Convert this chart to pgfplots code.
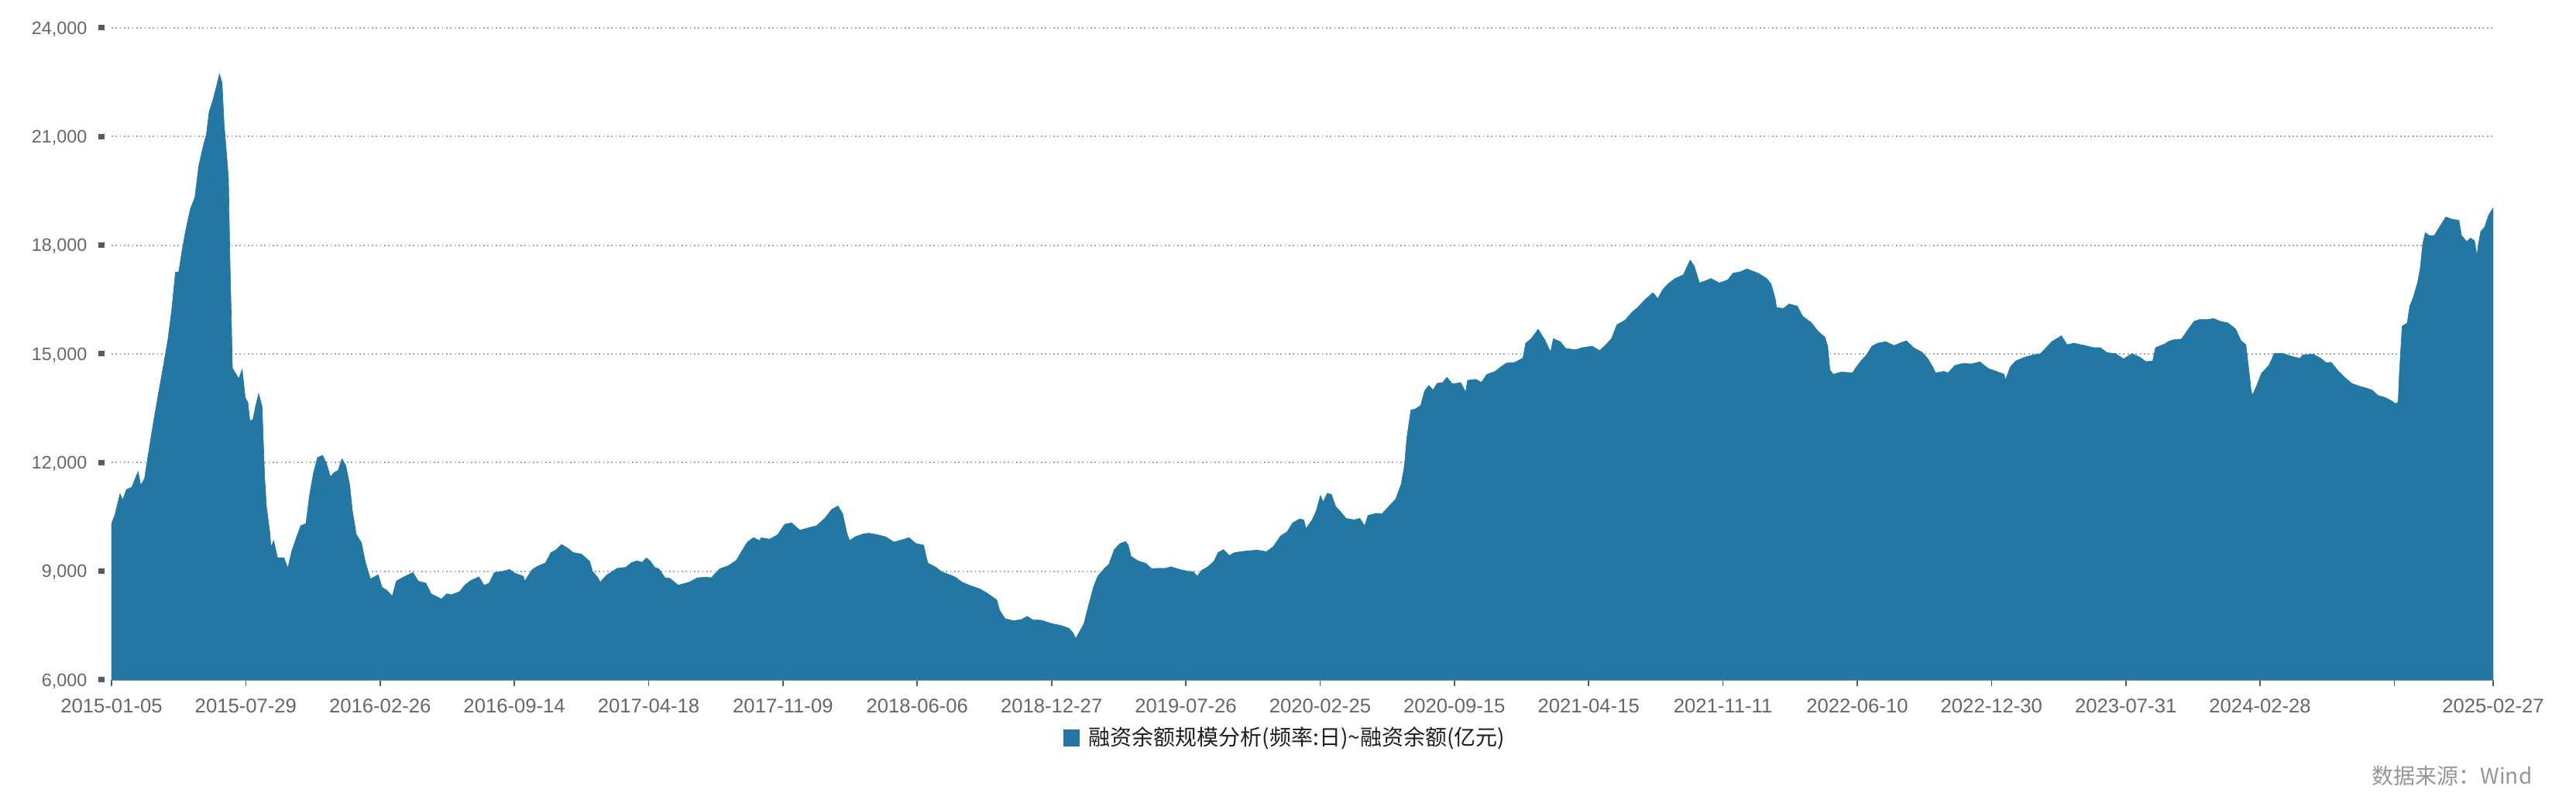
\documentclass[border=0pt]{standalone}
\usepackage{pgfplots}
\usepackage{pgfplotstable}
\pgfplotsset{compat=1.18}
\usepackage{fontspec}
\setmainfont{Liberation Sans}
\newfontfamily\cjk{Noto Sans CJK SC}
\definecolor{areablue}{RGB}{35,119,163}
\definecolor{labelgray}{RGB}{102,102,102}
\definecolor{gridgray}{RGB}{165,165,165}
\definecolor{tickdark}{RGB}{85,90,100}
\definecolor{axisgray}{RGB}{165,168,172}
\definecolor{srcgray}{RGB}{150,150,150}
\definecolor{legtext}{RGB}{30,30,30}

% trading-day index (0 = 2015-01-05) and margin balance (100 million yuan)
\pgfplotstableread{
day value
0 10316
3.5 10551
8.9 11139
11.6 10963
15.6 11257
21 11316
27.7 11751
30.4 11374
34.4 11551
38.5 12256
43.9 13138
49.3 13962
53.3 14550
58.7 15373
62.7 16196
66.7 17254
70 17254
73.5 17842
77.5 18430
82.4 19018
86.9 19312
91 20194
95 20665
99 21076
101.7 21664
105.8 22017
109.8 22429
112.5 22723
115.2 22488
117.3 21370
120 20488
121.9 19841
123.3 17783
124.6 16314
126 14608
130 14432
132.7 14314
136.2 14573
139.4 13785
142.1 13667
144.3 13138
147.5 13197
150.2 13550
153.4 13903
156.9 13550
158.3 12550
159.6 11609
161.5 10786
165 10081
166.3 9669
169 9845
173 9375
179.8 9375
183.8 9081
187.9 9552
193.2 9963
197.3 10257
202.7 10316
206.7 11139
210.7 11727
214.8 12139
220.2 12198
224.2 11962
228.2 11609
232.3 11727
236.3 11786
240.3 12103
244.4 11904
248.4 11374
251.1 10669
255.1 10022
260.5 9786
264.6 9257
269.9 8787
278 8904
282.1 8552
286.1 8493
292.8 8317
296.9 8728
304.9 8846
314.3 8963
319.7 8728
327.8 8670
333.2 8375
344 8234
349.3 8375
354.7 8352
362.8 8434
368.2 8611
373.6 8728
383 8846
388.4 8611
393.7 8670
399.1 8963
408.5 9000
414.9 9049
420.7 8943
429.3 8861
430.8 8721
437.9 9025
443.7 9131
452.4 9230
458.1 9516
463.9 9598
469.1 9738
475.5 9640
481.2 9516
489.8 9475
498.5 9271
501.4 9000
507.1 8820
509.5 8697
515.8 8885
527.3 9082
536 9107
541.8 9230
547.5 9287
553.3 9246
557.6 9369
561.9 9271
566.3 9107
570.6 9066
577 8820
582.1 8803
590.8 8615
602.3 8697
610.9 8820
619.6 8836
625.4 8820
634 9066
642.7 9148
651.3 9295
657.1 9557
662.9 9803
669.2 9926
675.9 9844
677.3 9926
686 9885
694.6 10008
701.8 10295
709 10336
717.7 10131
726.3 10197
735 10254
743.6 10459
750.8 10705
757.4 10803
762.3 10582
766.7 10049
769.5 9844
775.3 9951
784 10033
789.7 10049
798.4 10008
807.1 9951
815.7 9803
824.4 9869
831.5 9926
838.8 9762
846.6 9721
850.9 9230
859.5 9107
865.3 8984
873.9 8902
879.7 8836
886.9 8697
894.1 8615
905.7 8508
914.3 8369
922.9 8205
925.9 7918
931.6 7689
940.3 7631
949 7672
954.7 7754
960.5 7656
969.1 7648
980.7 7549
989.3 7508
998 7426
1002.3 7303
1005.2 7139
1009.5 7344
1013.8 7549
1018.1 8000
1023.9 8574
1028.2 8861
1035.4 9082
1039.8 9189
1045.5 9598
1051.3 9762
1057.1 9820
1060 9721
1062.9 9410
1070.1 9287
1078.7 9213
1084.4 9066
1090.2 9082
1098.9 9082
1104.6 9123
1113.3 9049
1122 9000
1127.7 8984
1132 8861
1136.4 9025
1142.2 9107
1149.3 9271
1153.7 9516
1159.4 9598
1165.2 9434
1171 9516
1182.5 9557
1194.1 9582
1204.2 9541
1211.3 9680
1218.5 9967
1225.7 10090
1231.5 10336
1238.7 10443
1243.1 10418
1245.3 10172
1251.7 10418
1256 10664
1260.4 11090
1263.2 10910
1267.6 11156
1271.9 11115
1276.2 10787
1282 10623
1286.9 10459
1295.6 10418
1301.3 10459
1306.5 10254
1310 10541
1318.6 10599
1324.4 10582
1330.2 10746
1338.8 10992
1344.6 11402
1348.1 11935
1350.4 12672
1354.7 13451
1359 13476
1364.8 13574
1369.1 13984
1373.4 14131
1377.8 14000
1382.1 14189
1387.8 14205
1392.2 14353
1397.9 14172
1406.6 14205
1411.8 13943
1413.8 14271
1422.4 14296
1428.2 14213
1434 14435
1442.6 14517
1448.4 14640
1454.2 14746
1462.8 14763
1471.5 14886
1474.4 15295
1480.1 15418
1487.3 15681
1494.5 15377
1500.3 15050
1503.2 15418
1510.4 15336
1516.2 15148
1526.3 15115
1533.5 15172
1543.6 15213
1551.6 15090
1558 15254
1563.7 15418
1569.5 15803
1578.2 15935
1585.4 16156
1591.1 16279
1598.3 16484
1607 16689
1612.2 16525
1617.1 16771
1622.9 16935
1630.1 17082
1638.7 17181
1645.9 17591
1650.3 17410
1655.4 16959
1661.8 17017
1667.5 17082
1676.2 16959
1684.9 17041
1690.6 17230
1697.8 17263
1705 17344
1717.2 17222
1725.8 17074
1730.1 16935
1734.5 16525
1735.9 16279
1743.1 16254
1748.9 16377
1757.5 16320
1763.3 16033
1771.9 15869
1779.2 15623
1786.4 15459
1789.2 15213
1791.5 14558
1795 14435
1803.6 14500
1815.2 14476
1818.1 14599
1823.8 14804
1829.6 14967
1835.4 15213
1841.2 15295
1849.8 15336
1858.5 15230
1865.7 15312
1871.4 15361
1878.6 15172
1887.3 15050
1893.1 14886
1898.8 14640
1901.7 14476
1910.4 14517
1914.7 14476
1921.9 14681
1930.5 14738
1939.2 14722
1947.9 14779
1956.5 14599
1965.1 14517
1973.2 14435
1974.4 14271
1979.6 14640
1985.3 14804
1994 14902
2002.6 14967
2011.3 15008
2017 15172
2022.8 15336
2032.9 15500
2038.7 15254
2045.9 15295
2057.4 15230
2066.1 15172
2073.3 15172
2080.5 15033
2089.1 15008
2097.8 14861
2106.4 15008
2115.1 14902
2120.9 14787
2128.1 14804
2131 15172
2141.1 15279
2144.5 15344
2149.9 15390
2158 15409
2160.6 15502
2166 15715
2171.4 15901
2176.8 15947
2184.9 15947
2191.6 15975
2198.3 15901
2206.4 15855
2214.5 15687
2219.9 15372
2225.2 15251
2227.9 14647
2230.6 13997
2232 13858
2236 14090
2241.4 14461
2249.5 14693
2254.9 15019
2262.9 15019
2268.3 14972
2273.7 14926
2281.8 14879
2284.5 14972
2295.2 14991
2303.3 14879
2308.7 14759
2314.1 14768
2322.1 14508
2327.5 14368
2335.6 14183
2343.7 14108
2349 14071
2357.1 13997
2362.5 13858
2370.6 13793
2377.3 13700
2381.3 13625
2384 13672
2385.4 14554
2388.1 15762
2393.4 15855
2396.1 16319
2400.2 16597
2404.2 16969
2406.9 17341
2409.6 18037
2412.3 18344
2416.3 18269
2421.7 18269
2427.1 18502
2433.8 18780
2440.5 18715
2447.3 18687
2450 18269
2455.4 18102
2459.4 18195
2463.4 18130
2466.1 17712
2467.5 18009
2470.1 18381
2474.2 18502
2478.2 18827
2483 19031
}\margindata

\begin{document}
\begin{tikzpicture}
\begin{axis}[
  scale only axis,
  width=922.5pt, height=252.6pt,
  xmin=0, xmax=2483, ymin=6000, ymax=24000,
  scaled y ticks=false, scaled x ticks=false,
  axis x line*=bottom, axis y line*=left,
  x axis line style={-, draw=axisgray, line width=0.65pt},
  y axis line style={-, draw=none},
  tick align=outside,
  major tick length=2.4pt,
  xtick={0,140,280,420,560,700,840,980,1120,1260,1400,1540,1680,1820,1960,2100,2240,2380,2483},
  xticklabels={2015-01-05,2015-07-29,2016-02-26,2016-09-14,2017-04-18,2017-11-09,2018-06-06,2018-12-27,2019-07-26,2020-02-25,2020-09-15,2021-04-15,2021-11-11,2022-06-10,2022-12-30,2023-07-31,2024-02-28,{},2025-02-27},
  xtick style={draw=tickdark, line width=0.5pt},
  ytick={6000,9000,12000,15000,18000,21000,24000},
  ytick style={draw=none},
  ymajorgrids,
  major grid style={draw=gridgray, line width=0.55pt, dash pattern=on 0.55pt off 1.05pt},
  x tick label style={font=\fontsize{7.7pt}{9pt}\selectfont, text=labelgray, inner sep=0pt, anchor=north, yshift=-4.8pt},
  y tick label style={font=\fontsize{7pt}{8.5pt}\selectfont, text=labelgray, inner sep=0pt, anchor=east, text depth=0pt},
  yticklabel={\pgfmathprintnumber[fixed, precision=0, 1000 sep={,}, assume math mode=true]{\tick}\hspace{4.5pt}\textcolor{tickdark}{\rule[1.45pt]{2.4pt}{2.1pt}}},
  legend style={at={(0.4924,0)}, anchor=center, yshift=-22.5pt, draw=none, fill=none, inner sep=0pt, outer sep=0pt,
    font=\cjk\fontsize{8.4pt}{10pt}\selectfont, text=legtext, column sep=0pt,
    nodes={inner sep=0pt}},
  legend image code/.code={\fill[areablue] (0pt,-3.15pt) rectangle (6pt,3.15pt);},
  legend entries={\hspace{3.6pt}融资余额规模分析(频率:日)\textasciitilde 融资余额(亿元)},
]
\addplot[fill=areablue, draw=areablue, line width=0.2pt] table[x=day, y=value] {\margindata} \closedcycle;
\coordinate (ll) at (rel axis cs:0,0);
\coordinate (ur) at (rel axis cs:1,1);
\coordinate (lr) at (rel axis cs:1,0);
\end{axis}
\node[anchor=east, inner sep=0pt, font=\cjk\fontsize{8.4pt}{10pt}\selectfont, text=srcgray] at ([xshift=15.3pt, yshift=-37.2pt]lr) {数据来源：Wind};
\path ([shift={(-43.2pt,-50.1pt)}]ll) rectangle ([shift={(32.1pt,10.8pt)}]ur);
\end{tikzpicture}
\end{document}
